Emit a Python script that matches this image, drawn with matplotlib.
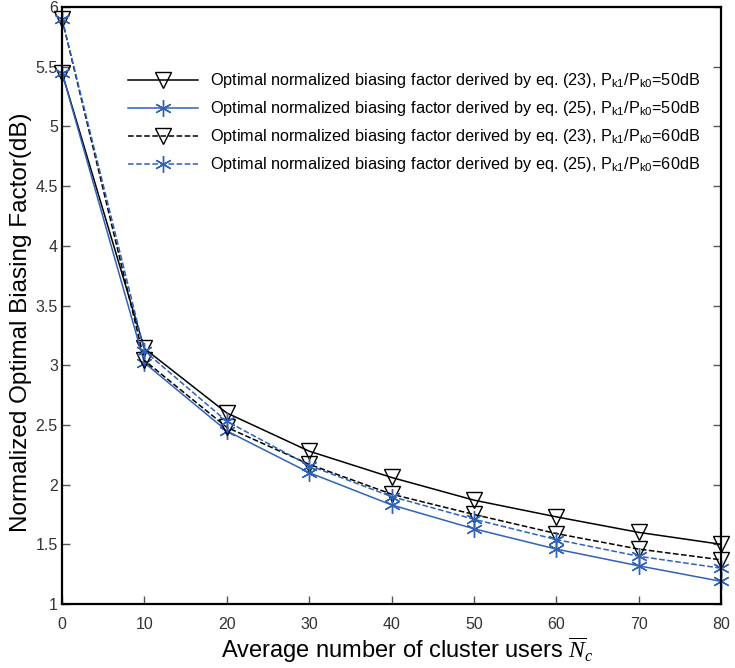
import numpy as np
import matplotlib
matplotlib.use("Agg")
import matplotlib.pyplot as plt

# average number of cluster users
n_users = [0, 10, 20, 30, 40, 50, 60, 70, 80]

# optimal normalized biasing factor (dB)
eq23_50db = [5.45, 3.14, 2.60, 2.28, 2.06, 1.87, 1.73, 1.60, 1.50]
eq25_50db = [5.45, 3.02, 2.45, 2.10, 1.83, 1.63, 1.46, 1.32, 1.19]
eq23_60db = [5.90, 3.04, 2.48, 2.17, 1.92, 1.75, 1.59, 1.46, 1.37]
eq25_60db = [5.90, 3.12, 2.53, 2.16, 1.90, 1.71, 1.54, 1.40, 1.30]

labels = [
    r"Optimal normalized biasing factor derived by eq. (23), P$_{\mathrm{k1}}$/P$_{\mathrm{k0}}$=50dB",
    r"Optimal normalized biasing factor derived by eq. (25), P$_{\mathrm{k1}}$/P$_{\mathrm{k0}}$=50dB",
    r"Optimal normalized biasing factor derived by eq. (23), P$_{\mathrm{k1}}$/P$_{\mathrm{k0}}$=60dB",
    r"Optimal normalized biasing factor derived by eq. (25), P$_{\mathrm{k1}}$/P$_{\mathrm{k0}}$=60dB",
]

plt.rcParams['font.family'] = ['Liberation Sans', 'DejaVu Sans']
plt.rcParams['mathtext.fontset'] = 'custom'
plt.rcParams['mathtext.rm'] = 'Liberation Sans'
plt.rcParams['mathtext.it'] = 'Liberation Serif:italic'

blue = '#2f62b8'
asterisk = (6, 2, 0)

fig = plt.figure(figsize=(7.35, 6.68), dpi=100)
ax = fig.add_axes([0.0844, 0.0958, 0.8966, 0.8937])

ax.plot(n_users, eq23_50db, '-', color='black', lw=1.1, marker='v', ms=11,
        mfc='none', mec='black', mew=1.0, clip_on=False, label=labels[0])
ax.plot(n_users, eq25_50db, '-', color=blue, lw=1.1, marker=asterisk, ms=12,
        mec=blue, mew=1.0, clip_on=False, label=labels[1])
ax.plot(n_users, eq23_60db, '--', color='black', lw=1.1, marker='v', ms=11,
        mfc='none', mec='black', mew=1.0, clip_on=False, label=labels[2])
ax.plot(n_users, eq25_60db, '--', color=blue, lw=1.1, marker=asterisk, ms=12,
        mec=blue, mew=1.0, clip_on=False, label=labels[3])

ax.set_xlim(0, 80)
ax.set_ylim(1, 6)
ax.set_xticks(np.arange(0, 81, 10))
ax.set_yticks([1, 1.5, 2, 2.5, 3, 3.5, 4, 4.5, 5, 5.5, 6])
ax.set_yticklabels(['1', '1.5', '2', '2.5', '3', '3.5', '4', '4.5', '5', '5.5', '6'])
ax.tick_params(axis='both', direction='in', length=6, width=1, labelsize=11.5,
               labelcolor='#333333', color='#555555')
ax.tick_params(axis='x', pad=9)
ax.tick_params(axis='y', right=True, pad=3)
for s in ax.spines.values():
    s.set_linewidth(1.6)

ax.set_xlabel(r"Average number of cluster users $\overline{N}_c$", fontsize=17)
ax.xaxis.set_label_coords(0.525, -0.052)
ax.set_ylabel("Normalized Optimal Biasing Factor(dB)", fontsize=17.5)
ax.yaxis.set_label_coords(-0.046, 0.472)

ax.legend(loc='upper right', bbox_to_anchor=(0.99, 0.917), frameon=False,
          fontsize=11.7, handlelength=4.3, labelspacing=0.56, handletextpad=0.7)

fig.savefig('out.png', dpi=100)
